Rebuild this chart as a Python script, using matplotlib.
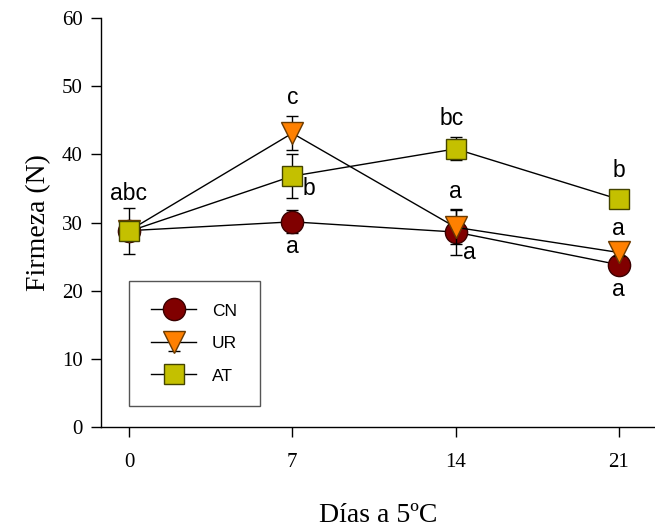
import matplotlib
matplotlib.use("Agg")
import matplotlib.pyplot as plt
import numpy as np

# ---- data ----
days = [0, 7, 14, 21]
cn = [28.8, 30.1, 28.6, 23.8]
cn_err = [3.4, 1.7, 3.4, 0.5]
ur = [28.8, 43.1, 29.3, 25.6]
ur_err = [1.0, 2.5, 2.5, 0.5]
at = [28.7, 36.8, 40.8, 33.4]
at_err = [1.0, 3.2, 1.7, 0.5]

series_names = ["CN", "UR", "AT"]
letters_cn = ["", "a", "a", "a"]
letters_ur = ["", "c", "a", "a"]
letters_at = ["abc", "b", "bc", "b"]

yticks = [0, 10, 20, 30, 40, 50, 60]
xticks = [0, 7, 14, 21]

serif = "Liberation Serif"
sans = "Liberation Sans"

fig = plt.figure(figsize=(6.55, 5.30), dpi=100)
ax = fig.add_axes([101/655, 103/530, 554/655, 409/530])

ax.errorbar(days, cn, yerr=cn_err, color="black", lw=1, marker="o", ms=16,
            mfc="#800000", mec="#3a0000", mew=1, capsize=4, elinewidth=1,
            capthick=1, zorder=3, label=series_names[0])
ax.errorbar(days, ur, yerr=ur_err, color="black", lw=1, marker="v", ms=16,
            mfc="#FF8000", mec="#6a3a00", mew=1, capsize=4, elinewidth=1,
            capthick=1, zorder=4, label=series_names[1])
ax.errorbar(days, at, yerr=at_err, color="black", lw=1, marker="s", ms=15,
            mfc="#C4C000", mec="#444400", mew=1, capsize=4, elinewidth=1,
            capthick=1, zorder=5, label=series_names[2])

ax.set_xlim(-1.2, 22.55)
ax.set_ylim(0, 60)
ax.set_xticks(xticks)
ax.set_yticks(yticks)
ax.set_xticklabels([str(v) for v in xticks], fontfamily=serif, fontsize=15)
ax.set_yticklabels([str(v) for v in yticks], fontfamily=serif, fontsize=15)
ax.tick_params(direction="out", length=7, width=1, pad=6)
ax.tick_params(axis="x", pad=12)
for s in ["top", "right"]:
    ax.spines[s].set_visible(False)
for s in ["left", "bottom"]:
    ax.spines[s].set_linewidth(1)

ax.set_ylabel("Firmeza (N)", fontfamily=serif, fontsize=20, labelpad=8)
ax.set_xlabel("Días a 5ºC", fontfamily=serif, fontsize=20, labelpad=22)

fs = 16.5
def put(x, y, s, dx, dy):
    if s:
        ax.annotate(s, (x, y), xytext=(dx, dy), textcoords="offset points",
                    ha="center", va="center", fontfamily=sans, fontsize=fs,
                    zorder=6)

put(days[0], at[0], letters_at[0], 0, 27)
put(days[1], ur[1], letters_ur[1], 0, 26)
put(days[1], at[1], letters_at[1], 12, -9)
put(days[1], cn[1], letters_cn[1], 0, -18)
put(days[2], at[2], letters_at[2], -3, 22)
put(days[2], ur[2], letters_ur[2], 0, 26)
put(days[2], cn[2], letters_cn[2], 10, -15)
put(days[3], at[3], letters_at[3], 0, 21)
put(days[3], ur[3], letters_ur[3], 0, 17)
put(days[3], cn[3], letters_cn[3], 0, -18)

h, l = ax.get_legend_handles_labels()
leg = ax.legend(h, l, loc="lower left", bbox_to_anchor=(0.05, 0.051),
                borderaxespad=0, fancybox=False, framealpha=1,
                edgecolor="#555555", prop={"family": sans, "size": 12.5},
                handlelength=2.6, handletextpad=0.9, labelspacing=1.0,
                borderpad=1.3, numpoints=1)
leg.get_frame().set_linewidth(1)
leg.set_zorder(2)

fig.savefig("out.png", dpi=100)
